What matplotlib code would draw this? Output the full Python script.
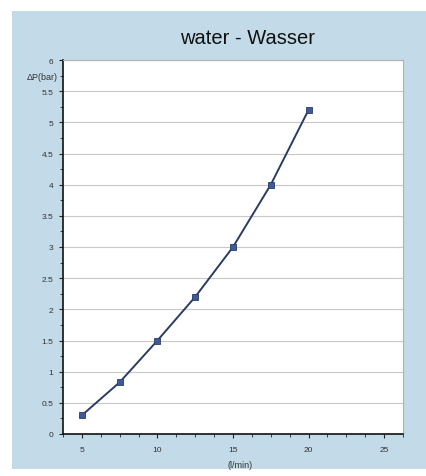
import matplotlib.pyplot as plt
from matplotlib.patches import Rectangle
from matplotlib.ticker import MultipleLocator

flow = [5, 7.5, 10, 12.5, 15, 17.5, 20]
dp = [0.3, 0.83, 1.5, 2.2, 3.0, 4.0, 5.2]
x_labels = [5, 10, 15, 20, 25]

plt.rcParams['font.family'] = ['Liberation Sans', 'DejaVu Sans']

fig = plt.figure(figsize=(4.27, 4.77), dpi=100)
fig.patch.set_facecolor('white')

# scanned blue panel behind the chart
W, H = 427, 477
fig.patches.append(Rectangle((12 / W, 7 / H), 415 / W, 458 / H,
                             transform=fig.transFigure, facecolor='#c3dbe9',
                             edgecolor='none', zorder=-10))

ax = fig.add_axes([63 / W, 1 - 435 / H, 340 / W, 374 / H])
ax.set_zorder(5)
ax.set_facecolor('white')

ax.plot(flow, dp, color='#2c3b63', lw=1.4, marker='s', ms=4,
        mfc='#3d5b9c', mec='#2c3b63', mew=0.6, zorder=3)

ax.set_xlim(3.75, 26.25)
ax.set_ylim(0, 6)
ax.set_xticks(x_labels)
ax.xaxis.set_minor_locator(MultipleLocator(1.25))
ax.yaxis.set_major_locator(MultipleLocator(0.5))
ax.yaxis.set_minor_locator(MultipleLocator(0.25))
ax.set_yticklabels([f'{v:g}' for v in ax.get_yticks()])
ax.grid(axis='y', which='major', color='#c8c8c8', lw=0.8)
ax.set_axisbelow(True)

ax.tick_params(axis='both', which='major', labelsize=6, length=3, width=0.8,
               colors='#222222', labelcolor='#333333')
ax.tick_params(axis='x', which='major', pad=6)
ax.tick_params(axis='y', which='major', pad=4)
ax.tick_params(axis='both', which='minor', length=2, width=0.6, colors='#222222')

for s in ['top', 'right']:
    ax.spines[s].set_color('#b0b0b0')
    ax.spines[s].set_linewidth(0.8)
for s in ['left', 'bottom']:
    ax.spines[s].set_color('#111111')
    ax.spines[s].set_linewidth(1.2)

fig.text(58 / W, 1 - 77 / H, 'ΔP(bar)', ha='right', va='center',
         fontsize=6.5, color='#333333')
fig.text(240 / W, 1 - 466 / H, '(l/min)', ha='center', va='center',
         fontsize=6.5, color='#333333')
fig.text(248 / W, 1 - 38 / H, 'water - Wasser', ha='center', va='center',
         fontsize=14.5, color='#111111')

fig.savefig('out.png', dpi=100)
